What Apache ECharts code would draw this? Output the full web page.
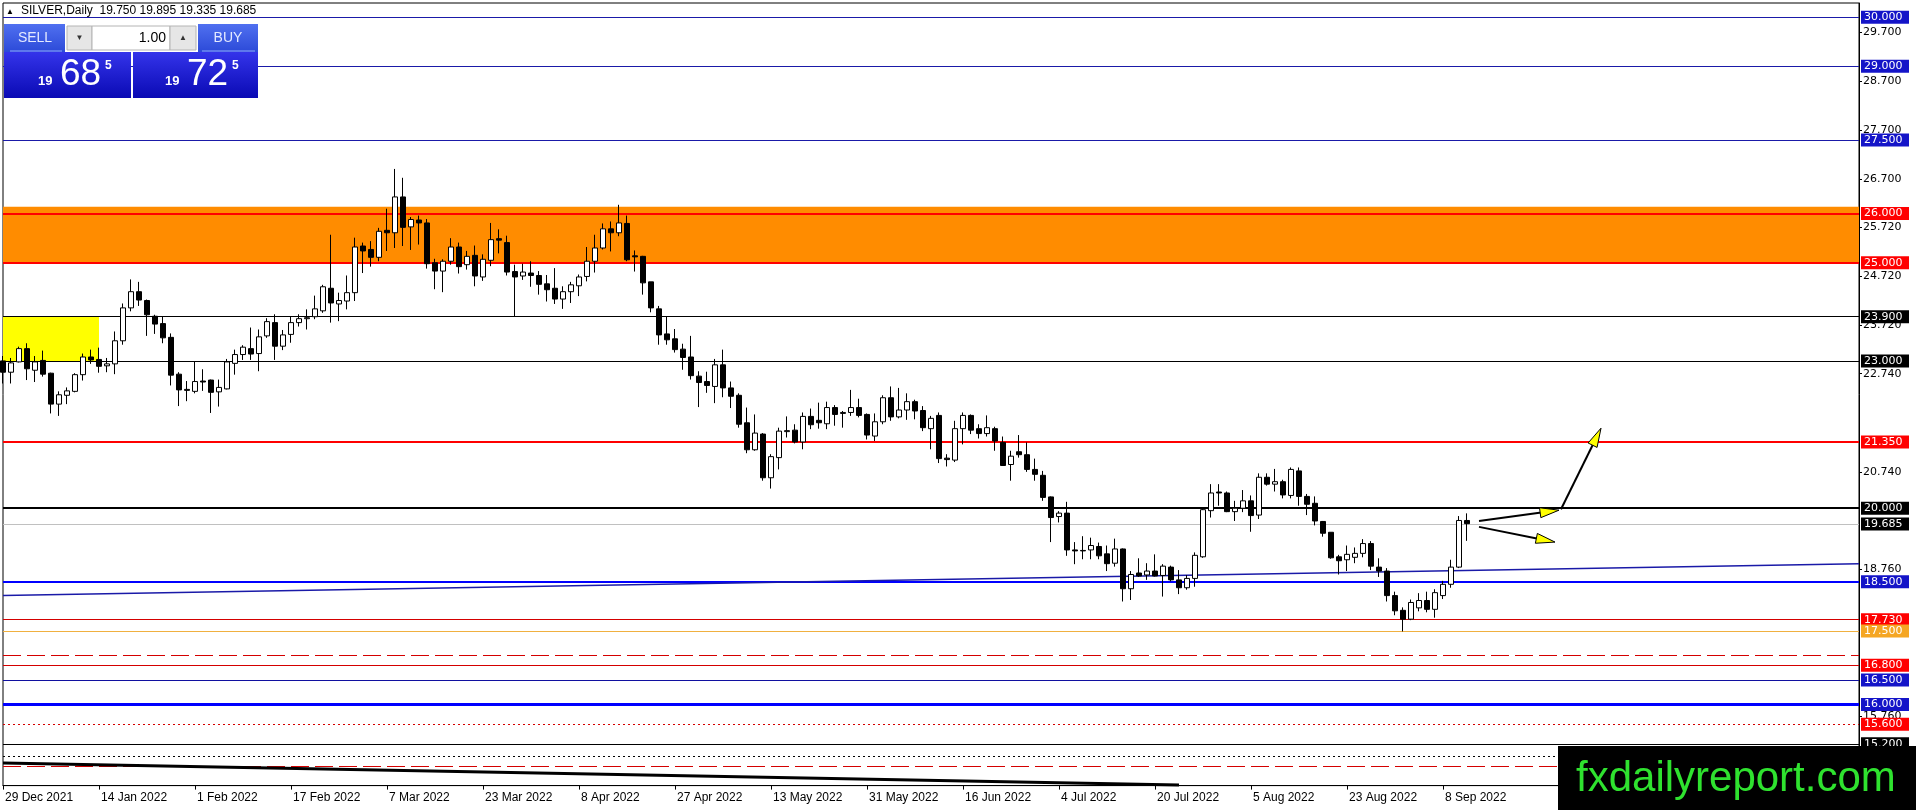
<!DOCTYPE html>
<html><head><meta charset="utf-8">
<script src="https://cdn.jsdelivr.net/npm/echarts@6/dist/echarts.min.js"></script>
<style>html,body{margin:0;padding:0;background:#fff;overflow:hidden}#c{width:1916px;height:810px}</style>
</head><body><div id="c"></div>
<script>
// ---- OHLC values (bar 0 = 29 Dec 2021) ----
const open = [
23.00,22.77,22.98,23.25,22.81,23.01,22.75,22.12,22.30,22.38,
22.72,23.08,23.03,22.90,22.94,23.41,24.08,24.41,24.23,23.91,
23.76,23.48,22.73,22.42,22.38,22.59,22.61,22.37,22.43,22.95,
23.13,23.25,23.15,23.51,23.78,23.30,23.54,23.78,23.86,23.90,
24.02,24.48,24.16,24.22,24.39,25.34,25.27,25.11,25.66,25.61,
26.34,25.73,25.87,25.81,25.00,24.83,25.03,25.32,24.96,25.15,
24.71,25.05,25.49,25.41,24.82,24.73,24.79,24.74,24.57,24.48,
24.26,24.41,24.53,24.72,25.03,25.30,25.69,25.61,25.80,25.14,
25.13,24.61,24.06,23.55,23.45,23.24,23.08,22.69,22.58,22.48,
22.92,22.45,22.30,21.74,21.19,21.51,20.62,21.03,21.56,21.59,
21.35,21.87,21.79,21.72,22.05,21.93,21.95,22.05,21.91,21.47,
21.76,22.25,21.86,22.00,22.17,21.99,21.62,21.89,21.02,20.98,
21.62,21.89,21.62,21.52,21.62,21.34,20.89,21.15,21.09,20.79,
20.67,20.23,19.83,19.90,19.15,19.14,19.15,19.22,19.07,18.88,
19.17,18.36,18.68,18.64,18.72,18.63,18.80,18.54,18.38,18.57,
19.01,19.95,20.33,20.31,19.93,20.00,20.15,19.86,20.63,20.49,
20.54,20.26,20.76,20.24,20.10,19.73,19.51,19.01,18.95,19.00,
19.08,19.28,18.80,18.72,18.22,17.92,17.74,17.97,18.12,17.94,
18.22,18.45,18.80,19.75];
const high = [
23.10,23.06,23.29,23.36,23.10,23.21,22.76,22.38,22.46,22.75,
23.15,23.23,23.27,23.06,23.60,24.17,24.66,24.61,24.25,23.94,
23.91,23.56,22.77,22.59,22.98,22.83,22.62,22.62,23.04,23.23,
23.32,23.68,23.64,23.87,23.95,23.63,23.91,23.95,24.05,24.33,
24.55,25.57,24.39,24.74,25.51,25.41,25.44,25.71,26.10,26.91,
26.73,25.93,25.96,25.89,25.08,25.07,25.50,25.41,25.24,25.35,
25.17,25.81,25.68,25.55,24.96,24.98,25.03,24.83,24.75,24.89,
24.52,24.61,24.76,25.32,25.57,25.80,25.84,26.18,25.96,25.25,
25.14,24.61,24.12,23.91,23.65,23.35,23.51,22.79,22.78,23.04,
23.23,22.58,22.34,22.05,21.91,21.53,21.10,21.64,21.87,21.71,
21.95,22.03,22.15,22.17,22.10,21.98,22.41,22.23,21.93,21.93,
22.30,22.48,22.45,22.34,22.21,22.08,21.88,21.95,21.10,21.78,
21.95,21.91,21.71,21.89,21.66,21.46,21.17,21.49,21.34,21.01,
20.76,20.24,19.94,20.13,19.31,19.43,19.40,19.30,19.24,19.38,
19.18,18.72,18.98,18.88,19.06,18.86,18.83,18.74,18.64,19.10,
19.99,20.49,20.49,20.34,20.15,20.37,20.26,20.71,20.71,20.80,
20.58,20.83,20.83,20.29,20.24,19.74,19.51,19.05,19.24,19.20,
19.37,19.33,18.98,18.78,18.30,17.98,18.14,18.27,18.30,18.35,
18.52,18.95,19.84,19.895];
const low = [
22.54,22.54,22.97,22.61,22.57,22.68,21.93,21.88,22.12,22.36,
22.60,22.94,22.76,22.77,22.73,23.33,24.01,24.12,23.51,23.55,
23.36,22.50,22.08,22.18,22.34,22.39,21.94,22.07,22.42,22.72,
23.02,23.02,22.79,23.47,23.02,23.22,23.37,23.70,23.64,23.85,
23.98,23.78,23.81,24.05,24.22,24.79,24.92,25.03,25.24,25.30,
25.34,25.26,25.37,24.88,24.46,24.40,24.96,24.78,24.86,24.52,
24.63,24.93,25.19,24.74,23.90,24.65,24.51,24.35,24.21,24.16,
24.06,24.18,24.32,24.62,24.80,25.27,25.23,25.54,25.03,24.82,
24.35,23.99,23.33,23.33,23.17,22.82,22.62,22.06,22.35,22.14,
22.26,22.04,21.64,21.12,21.17,20.56,20.40,20.79,21.44,21.32,
21.20,21.61,21.62,21.61,21.68,21.64,21.88,21.85,21.40,21.37,
21.71,21.78,21.83,21.80,21.81,21.57,21.20,20.92,20.85,20.94,
21.30,21.51,21.42,21.46,21.17,20.86,20.56,21.03,20.74,20.56,
20.15,19.31,19.71,19.03,18.86,18.96,18.96,18.96,18.72,18.81,
18.10,18.13,18.60,18.54,18.61,18.20,18.51,18.25,18.34,18.40,
18.99,19.81,20.05,19.92,19.74,19.92,19.52,19.78,20.46,20.34,
20.20,20.20,20.05,19.86,19.65,19.42,18.97,18.65,18.72,18.88,
19.00,18.74,18.60,18.10,17.82,17.49,17.72,17.90,17.88,17.77,
18.15,18.38,18.78,19.335];
const close = [
22.77,22.96,23.25,22.84,22.98,22.73,22.12,22.31,22.39,22.72,
23.08,23.02,22.89,22.94,23.41,24.08,24.41,24.24,23.94,23.75,
23.47,22.71,22.41,22.40,22.58,22.57,22.36,22.46,22.98,23.13,
23.28,23.14,23.49,23.80,23.30,23.53,23.78,23.86,23.88,24.06,
24.51,24.18,24.23,24.39,25.32,25.24,25.11,25.64,25.61,26.34,
25.72,25.88,25.81,24.98,24.83,25.03,25.32,24.92,25.13,24.73,
25.07,25.47,25.46,24.81,24.71,24.81,24.74,24.56,24.45,24.26,
24.41,24.55,24.71,25.03,25.30,25.69,25.61,25.81,25.06,25.12,
24.59,24.08,23.53,23.43,23.23,23.07,22.70,22.56,22.50,22.92,
22.45,22.28,21.71,21.19,21.53,20.62,21.05,21.57,21.58,21.35,
21.87,21.70,21.74,22.05,21.91,21.95,22.05,21.89,21.49,21.76,
22.25,21.86,22.00,22.17,21.98,21.64,21.83,21.01,20.99,21.62,
21.89,21.59,21.52,21.64,21.37,20.87,21.06,21.09,20.79,20.69,
20.22,19.81,19.90,19.15,19.13,19.13,19.24,19.03,18.87,19.17,
18.36,18.65,18.62,18.72,18.62,18.82,18.54,18.38,18.57,19.04,
19.97,20.31,20.31,19.93,20.00,20.15,19.85,20.63,20.49,20.54,
20.27,20.79,20.24,20.08,19.74,19.49,18.99,18.93,19.06,19.08,
19.28,18.82,18.72,18.22,17.91,17.74,18.08,18.12,17.94,18.28,
18.45,18.80,19.75,19.685];

// ---- axis labels ----
const dateTicks = ['29 Dec 2021','14 Jan 2022','1 Feb 2022','17 Feb 2022','7 Mar 2022','23 Mar 2022','8 Apr 2022','27 Apr 2022','13 May 2022','31 May 2022','16 Jun 2022','4 Jul 2022','20 Jul 2022','5 Aug 2022','23 Aug 2022','8 Sep 2022'];
const scaleTicks = [29.7, 28.7, 27.7, 26.7, 25.72, 24.72, 23.72, 22.74, 20.74, 18.76, 15.76];
const monthNames = ['Jan','Feb','Mar','Apr','May','Jun','Jul','Aug','Sep','Oct','Nov','Dec'];
const holidays = ['2022-04-15'];

// ---- drawn objects (prices / bar indices) ----
const levelPrices = [30, 29, 27.5, 26, 25, 23.9, 23, 21.35, 20, 19.685, 18.5, 17.73, 17.5, 16.8, 16.5, 16, 15.6, 15.2];
const plainLevels = [17.0, 14.95, 14.74];
const orangeZone = [26.14, 25.0];
const yellowZone = [[0, 23.9], [12, 23.0]];
const trendLine = [[0, 18.22], [232, 18.87]];
const fallingLine = [[0, 14.81], [147, 14.36]];
const arrowSegments = [[184.5, 19.74, 194.5, 19.96], [194.75, 19.98, 199.75, 21.63], [184.5, 19.62, 194, 19.31]];

// categories: trading weekdays
const categories = [];
{
  const d = new Date(Date.UTC(2021, 11, 29));
  while (categories.length < 233) {
    const wd = d.getUTCDay();
    const iso = d.toISOString().slice(0, 10);
    if (wd !== 0 && wd !== 6 && holidays.indexOf(iso) < 0) {
      categories.push(d.getUTCDate() + ' ' + monthNames[d.getUTCMonth()] + ' ' + d.getUTCFullYear());
    }
    d.setUTCDate(d.getUTCDate() + 1);
  }
}
const candleData = open.map((o, i) => [o, close[i], low[i], high[i]]);

// styles
const NAVY = '#1a1aa8', BLUE = '#0000ff', RED = '#ff0000', DRED = '#d40000';
const styleOf = {
  '30': [NAVY, 1, 'solid', '#1414c8'], '29': [NAVY, 1, 'solid', '#1414c8'], '27.5': [NAVY, 1, 'solid', '#1414c8'],
  '26': [RED, 2, 'solid', RED], '25': [RED, 2, 'solid', RED],
  '23.9': ['#000', 1, 'solid', '#000'], '23': ['#000', 1, 'solid', '#000'],
  '21.35': [RED, 2, 'solid', RED], '20': ['#000', 2, 'solid', '#000'],
  '19.685': ['#c0c0c0', 1, 'solid', '#000'], '18.5': [BLUE, 2, 'solid', '#1414c8'],
  '17.73': [DRED, 1, 'solid', RED], '17.5': ['#f0b040', 1, 'solid', '#f5a623'],
  '16.8': [DRED, 1, 'solid', RED], '16.5': ['#1010a0', 1, 'solid', '#1414c8'],
  '16': [BLUE, 3, 'solid', '#1414c8'], '15.6': [DRED, 1, [2, 3], RED], '15.2': ['#000', 1, 'solid', '#000']
};
const plainStyle = {'17': [DRED, 1, [18, 6]], '14.95': ['#000', 1, [2, 3]], '14.74': [DRED, 1, [18, 6]]};

const markLineData = [];
levelPrices.forEach(p => {
  const s = styleOf[String(p)];
  markLineData.push({
    yAxis: p,
    lineStyle: {color: s[0], width: s[1], type: s[2]},
    label: {show: true, position: 'end', distance: 2, formatter: p.toFixed(3), color: '#fff',
      backgroundColor: s[3], padding: [1, 3, 0, 3], width: 42, fontSize: 11, fontFamily: 'DejaVu Sans', lineHeight: 12}
  });
});
plainLevels.forEach(p => {
  const s = plainStyle[String(p)];
  markLineData.push({yAxis: p, lineStyle: {color: s[0], width: s[1], type: s[2]}, label: {show: false}});
});
markLineData.push([{coord: trendLine[0], lineStyle: {color: '#1a1aa8', width: 1.5, type: 'solid'}, label: {show: false}}, {coord: trendLine[1]}]);
markLineData.push([{coord: fallingLine[0], lineStyle: {color: '#000', width: 3, type: 'solid'}, label: {show: false}}, {coord: fallingLine[1]}]);

const chart = echarts.init(document.getElementById('c'), null, {renderer: 'canvas'});
const showTick = (index, value) => index <= 183 && dateTicks.indexOf(value) >= 0;

function gradient(c1, c2) {
  return new echarts.graphic.LinearGradient(0, 0, 0, 1, [{offset: 0, color: c1}, {offset: 1, color: c2}]);
}

chart.setOption({
  animation: false,
  backgroundColor: '#fff',
  grid: {left: 3, top: 3, width: 1856, height: 782.6, show: true, borderColor: '#000', borderWidth: 1, backgroundColor: 'transparent'},
  xAxis: {
    type: 'category', data: categories, boundaryGap: false,
    axisLine: {show: true, lineStyle: {color: '#000', width: 1}},
    axisTick: {show: true, interval: showTick, length: 4, lineStyle: {color: '#000'}},
    axisLabel: {interval: showTick, align: 'left', margin: 6, color: '#000', fontSize: 12, fontFamily: 'Liberation Sans', padding: [0, 0, 0, 2]},
    splitLine: {show: false}
  },
  yAxis: {
    type: 'value', position: 'right', min: 14.35, max: 30.29,
    axisLine: {show: true, lineStyle: {color: '#000'}},
    axisTick: {show: true, customValues: scaleTicks, length: 3, lineStyle: {color: '#000'}},
    axisLabel: {customValues: scaleTicks, formatter: v => Number(v).toFixed(3), margin: 4, color: '#000', fontSize: 11, fontFamily: 'DejaVu Sans'},
    splitLine: {show: false}
  },
  series: [
    {
      type: 'candlestick', data: candleData, barWidth: 5, z: 5,
      itemStyle: {color: '#fff', color0: '#000', borderColor: '#000', borderColor0: '#000', borderWidth: 1},
      markArea: {
        silent: true, z: 1,
        data: [
          [{yAxis: orangeZone[0], itemStyle: {color: '#ff8c00', opacity: 1}}, {yAxis: orangeZone[1]}],
          [{coord: yellowZone[0], itemStyle: {color: '#ffff00', opacity: 1}}, {coord: yellowZone[1]}]
        ]
      },
      markLine: {silent: true, symbol: ['none', 'none'], animation: false, data: markLineData}
    },
    {
      type: 'custom', z: 10, clip: false,
      data: arrowSegments.map(s => [Math.round(s[0]), s[1]]),
      renderItem: (params, api) => {
        const s = arrowSegments[params.dataIndex];
        const toPx = (x, y) => {
          const a = api.coord([0, y]);
          const b = api.coord([232, y]);
          return [a[0] + (b[0] - a[0]) * x / 232, a[1]];
        };
        const p0 = toPx(s[0], s[1]), p1 = toPx(s[2], s[3]);
        const dx = p1[0] - p0[0], dy = p1[1] - p0[1];
        const len = Math.sqrt(dx * dx + dy * dy);
        const ux = dx / len, uy = dy / len, nx = -uy, ny = ux;
        const L = 19, W = 5;
        const bx = p1[0] - ux * L, by = p1[1] - uy * L;
        return {
          type: 'group', children: [
            {type: 'line', shape: {x1: p0[0], y1: p0[1], x2: bx + ux * 3, y2: by + uy * 3}, style: {stroke: '#000', lineWidth: 2}},
            {type: 'polygon', shape: {points: [[p1[0], p1[1]], [bx + nx * W, by + ny * W], [bx - nx * W, by - ny * W]]},
              style: {fill: '#ffff00', stroke: '#000', lineWidth: 1}}
          ]
        };
      }
    }
  ],
  graphic: [
    {type: 'text', x: 6, y: 12, z: 100, style: {text: '▲', fontSize: 8, fill: '#000', verticalAlign: 'middle'}},
    {type: 'text', x: 21, y: 11, z: 100, style: {text: 'SILVER,Daily  19.750 19.895 19.335 19.685', font: '12px "Liberation Sans"', fill: '#000', verticalAlign: 'middle'}},
    // trade panel
    {type: 'rect', z: 100, shape: {x: 4, y: 24, width: 61, height: 28}, style: {fill: gradient('#5070f0', '#2c4ad8')}},
    {type: 'line', z: 101, shape: {x1: 10, y1: 51, x2: 62, y2: 51}, style: {stroke: '#8fa6ff', lineWidth: 1}},
    {type: 'text', z: 101, x: 35, y: 38, style: {text: 'SELL', font: '14px "Liberation Sans"', fill: '#e4eaff', align: 'center', verticalAlign: 'middle'}},
    {type: 'rect', z: 100, shape: {x: 67, y: 26, width: 25, height: 24}, style: {fill: '#e6e6e6', stroke: '#b4b4b4', lineWidth: 1}},
    {type: 'text', z: 101, x: 79.5, y: 38, style: {text: '▼', fontSize: 8, fill: '#333', align: 'center', verticalAlign: 'middle'}},
    {type: 'rect', z: 100, shape: {x: 92, y: 26, width: 78, height: 24}, style: {fill: '#fff', stroke: '#b4b4b4', lineWidth: 1}},
    {type: 'text', z: 101, x: 166, y: 38, style: {text: '1.00', font: '14px "Liberation Sans"', fill: '#000', align: 'right', verticalAlign: 'middle'}},
    {type: 'rect', z: 100, shape: {x: 170, y: 26, width: 26, height: 24}, style: {fill: '#e6e6e6', stroke: '#b4b4b4', lineWidth: 1}},
    {type: 'text', z: 101, x: 183, y: 38, style: {text: '▲', fontSize: 8, fill: '#333', align: 'center', verticalAlign: 'middle'}},
    {type: 'rect', z: 100, shape: {x: 198, y: 24, width: 60, height: 28}, style: {fill: gradient('#5070f0', '#2c4ad8')}},
    {type: 'line', z: 101, shape: {x1: 202, y1: 51, x2: 255, y2: 51}, style: {stroke: '#8fa6ff', lineWidth: 1}},
    {type: 'text', z: 101, x: 228, y: 38, style: {text: 'BUY', font: '14px "Liberation Sans"', fill: '#e4eaff', align: 'center', verticalAlign: 'middle'}},
    {type: 'rect', z: 100, shape: {x: 4, y: 52, width: 127, height: 46}, style: {fill: gradient('#3434ea', '#0a0ab4')}},
    {type: 'rect', z: 100, shape: {x: 133, y: 52, width: 125, height: 46}, style: {fill: gradient('#3434ea', '#0a0ab4')}},
    {type: 'text', z: 101, x: 38, y: 81, style: {text: '19', font: 'bold 13px "Liberation Sans"', fill: '#fff', verticalAlign: 'middle'}},
    {type: 'text', z: 101, x: 60, y: 75, style: {text: '68', font: '37px "Liberation Sans"', fill: '#fff', verticalAlign: 'middle'}},
    {type: 'text', z: 101, x: 105, y: 66, style: {text: '5', font: 'bold 12px "Liberation Sans"', fill: '#fff', verticalAlign: 'middle'}},
    {type: 'text', z: 101, x: 165, y: 81, style: {text: '19', font: 'bold 13px "Liberation Sans"', fill: '#fff', verticalAlign: 'middle'}},
    {type: 'text', z: 101, x: 187, y: 75, style: {text: '72', font: '37px "Liberation Sans"', fill: '#fff', verticalAlign: 'middle'}},
    {type: 'text', z: 101, x: 232, y: 66, style: {text: '5', font: 'bold 12px "Liberation Sans"', fill: '#fff', verticalAlign: 'middle'}},
    // logo
    {type: 'rect', z: 100, shape: {x: 1558, y: 746, width: 358, height: 64}, style: {fill: '#000'}},
    {type: 'text', z: 101, x: 1576, y: 779, style: {text: 'fxdailyreport.com', font: '42px "Liberation Sans"', fill: '#2fe22f', verticalAlign: 'middle'}}
  ]
});
</script>
</body></html>
